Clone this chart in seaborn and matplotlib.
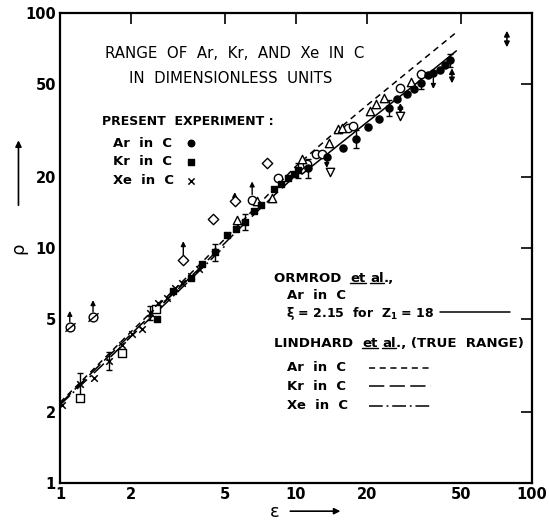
import numpy as np
import pandas as pd
import matplotlib
matplotlib.use("Agg")
import matplotlib.pyplot as plt
import seaborn as sns
from matplotlib.markers import MarkerStyle
from matplotlib.transforms import Affine2D

# ---------------- data ----------------
tick_vals = [1, 2, 5, 10, 20, 50, 100]
tick_labels = ["1", "2", "5", "10", "20", "50", "100"]

# present experiment
ar_eps = [11.2, 13.5, 15.8, 17.9, 20.1, 22.4, 24.7, 26.9, 29.4, 31.5, 34.0, 36.1, 38.2, 40.9, 42.9, 45.1]
ar_rho = [21.8, 24.3, 26.6, 29.2, 32.6, 35.5, 39.6, 43.2, 45.3, 47.6, 50.5, 54.5, 55.6, 57.3, 60.2, 63.2]
ar_err = [2.0, 0, 0, 2.5, 0, 0, 3.0, 0, 0, 0, 3.0, 0, 0, 0, 0, 4.0]

kr_eps = [2.57, 3.0, 3.6, 4.01, 4.55, 5.1, 5.58, 6.09, 6.63, 7.1, 8.1, 8.6, 9.25, 9.8, 10.2]
kr_rho = [5.0, 6.57, 7.45, 8.55, 9.6, 11.4, 12.1, 12.9, 14.3, 15.3, 17.8, 18.7, 19.8, 20.6, 21.4]
kr_err = [0, 0, 0, 0, 0.8, 0, 0, 1.0, 0, 0, 0, 0, 0, 0, 1.5]

xe_eps = [1.02, 1.21, 1.40, 1.61, 1.84, 2.01, 2.22, 2.40, 2.59, 2.83, 3.06, 3.3, 3.6, 3.9]
xe_rho = [2.14, 2.65, 2.81, 3.32, 3.85, 4.32, 4.53, 5.30, 5.85, 6.14, 6.76, 7.09, 7.62, 8.16]
xe_err = [0, 0.3, 0, 0.3, 0, 0, 0, 0.35, 0, 0, 0, 0, 0, 0]

# other experiments (open symbols)
osq_eps = [1.21, 1.83, 2.54]
osq_rho = [2.31, 3.59, 5.51]
odi_eps = [3.33, 4.45, 5.5, 7.55]
odi_rho = [8.9, 13.3, 15.8, 22.9]
sci_eps = [1.10, 1.38]
sci_rho = [4.61, 5.09]
oci_eps = [6.52, 8.4, 11.1, 12.1, 12.9, 16.6, 17.4, 27.7, 34.0]
oci_rho = [16.0, 19.8, 22.8, 25.0, 25.2, 32.4, 33.2, 48.0, 55.0]
otr_eps = [5.63, 6.85, 7.9, 10.6, 13.8, 15.0, 15.6, 20.5, 21.8, 23.5, 30.8]
otr_rho = [13.1, 15.8, 16.3, 23.8, 27.9, 32.2, 32.3, 38.4, 41.0, 43.3, 50.9]
dtr_eps = [13.9, 27.7]
dtr_rho = [21.1, 36.5]

# limits (arrows)
up_eps = [1.10, 1.38, 3.33, 5.5, 6.52]
up_from = [4.85, 5.35, 9.35, 16.4, 16.9]
up_to = [5.4, 6.0, 10.7, 17.3, 19.2]
dn_eps = [13.5, 38.2]
dn_from = [23.4, 54.0]
dn_to = [21.9, 47.5]
da_eps = [27.7, 45.8, 78.3]
da_lo = [37.4, 50.2, 71.5]
da_hi = [41.4, 58.2, 84.0]

# theory curves
orm_eps = [10.6, 20, 30, 47.8]
orm_rho = [20.6, 34.3, 47.2, 69.0]
lar_eps = [1, 2, 3, 4, 6, 10, 15, 20, 30, 48]
lar_rho = [2.2, 4.4, 6.55, 8.7, 13.2, 22.3, 31.8, 40.5, 56.5, 83.0]
lkr_eps = [1, 2, 3, 4, 6, 8, 11]
lkr_rho = [2.17, 4.3, 6.35, 8.4, 12.6, 16.6, 22.3]
lxe_eps = [1, 1.5, 2, 3, 4, 5]
lxe_rho = [2.15, 3.15, 4.2, 6.2, 8.2, 10.2]

# ---------------- figure ----------------
sns.set_style("white")
plt.rcParams['font.family'] = ['DejaVu Sans']
plt.rcParams['text.color'] = 'black'
plt.rcParams['xtick.color'] = 'black'
plt.rcParams['ytick.color'] = 'black'
plt.rcParams['axes.labelcolor'] = 'black'
fig = plt.figure(figsize=(5.49, 5.20), dpi=100)
ax = fig.add_axes([0.1093, 0.0712, 0.8597, 0.9038])
ax.set_xscale('log')
ax.set_yscale('log')

K = 'black'
LW = 1.1
sty_ar = (0, (4, 3))
sty_kr = (0, (10, 3.5))
sty_xe = (0, (9, 2.5, 1.2, 2.5))

def curve(x, y, ls):
    sns.lineplot(x=x, y=y, ax=ax, color=K, lw=LW, linestyle=ls, zorder=1,
                 estimator=None, sort=True)

curve(orm_eps, orm_rho, '-')
curve(lar_eps, lar_rho, sty_ar)
curve(lkr_eps, lkr_rho, sty_kr)
curve(lxe_eps, lxe_rho, sty_xe)

# error bars
def ebars(x, y, e):
    x = np.array(x); y = np.array(y); e = np.array(e)
    m = e > 0
    ax.errorbar(x[m], y[m], yerr=e[m], fmt='none', ecolor=K, elinewidth=1.0,
                capsize=2.5, capthick=1.0, zorder=2)

ebars(ar_eps, ar_rho, ar_err)
ebars(kr_eps, kr_rho, kr_err)
ebars(xe_eps, xe_rho, xe_err)

# arrows
for e, a, b in zip(up_eps + dn_eps, up_from + dn_from, up_to + dn_to):
    ax.annotate('', xy=(e, b), xytext=(e, a),
                arrowprops=dict(arrowstyle='-|>', color=K, lw=1.0,
                                mutation_scale=7, shrinkA=0, shrinkB=0), zorder=2)
for e, a, b in zip(da_eps, da_lo, da_hi):
    ax.annotate('', xy=(e, b), xytext=(e, a),
                arrowprops=dict(arrowstyle='<|-|>', color=K, lw=1.1,
                                mutation_scale=8, shrinkA=0, shrinkB=0), zorder=2)

# markers
def pts(x, y, marker, s, filled, lw=1.0):
    if filled:
        sns.scatterplot(x=x, y=y, ax=ax, marker=marker, s=s, color=K,
                        edgecolor=K, linewidth=lw, zorder=3)
    else:
        sns.scatterplot(x=x, y=y, ax=ax, marker=marker, s=s, color='white',
                        edgecolor=K, linewidth=lw, zorder=3)

pts(osq_eps, osq_rho, 's', 30, False)
pts(odi_eps, odi_rho, 'D', 28, False)
pts(sci_eps, sci_rho, 'o', 40, False)
pts(oci_eps, oci_rho, 'o', 36, False)
pts(otr_eps, otr_rho, '^', 36, False)
pts(dtr_eps, dtr_rho, 'v', 36, False)
slash = MarkerStyle('|', transform=Affine2D().rotate_deg(-50))
sns.scatterplot(x=sci_eps, y=sci_rho, ax=ax, marker=slash, s=90, color=K,
                linewidth=1.0, zorder=4)
pts(ar_eps, ar_rho, 'o', 26, True)
pts(kr_eps, kr_rho, 's', 18, True)
sns.scatterplot(x=xe_eps, y=xe_rho, ax=ax, marker='x', s=22, color=K,
                linewidth=1.1, zorder=3)

# axes formatting
ax.set_xlim(1, 100)
ax.set_ylim(1, 100)
ax.set_xticks(tick_vals)
ax.set_xticklabels(tick_labels)
ax.set_yticks(tick_vals)
ax.set_yticklabels(tick_labels)
ax.minorticks_off()
ax.tick_params(direction='in', length=8, width=1.2, top=True, right=True,
               labelsize=10.5, pad=3, colors=K)
for lab in ax.get_xticklabels() + ax.get_yticklabels():
    lab.set_fontweight('bold')
for sp in ax.spines.values():
    sp.set_linewidth(1.6)
    sp.set_color(K)
ax.set_xlabel('')
ax.set_ylabel('')

# axis labels with arrows
ax.text(-0.088, 0.50, 'ρ', transform=ax.transAxes, rotation=90,
        fontsize=13, ha='center', va='center', color=K)
ax.annotate('', xy=(-0.088, 0.735), xytext=(-0.088, 0.585), xycoords='axes fraction',
            annotation_clip=False,
            arrowprops=dict(arrowstyle='-|>', color=K, lw=1.2, mutation_scale=9))
ax.text(0.455, -0.062, 'ε', transform=ax.transAxes, fontsize=13,
        ha='center', va='center', color=K)
ax.annotate('', xy=(0.60, -0.060), xytext=(0.482, -0.060), xycoords='axes fraction',
            annotation_clip=False,
            arrowprops=dict(arrowstyle='-|>', color=K, lw=1.2, mutation_scale=9))

# title
ax.text(0.371, 0.913, 'RANGE  OF  Ar,  Kr,  AND  Xe  IN  C', transform=ax.transAxes,
        fontsize=10.8, ha='center', va='center', color=K)
ax.text(0.362, 0.860, 'IN  DIMENSIONLESS  UNITS', transform=ax.transAxes,
        fontsize=10.8, ha='center', va='center', color=K)

# present experiment legend
ax.text(0.089, 0.770, 'PRESENT  EXPERIMENT :', transform=ax.transAxes,
        fontsize=9, fontweight='bold', ha='left', va='center', color=K)
leg_y = [0.723, 0.683, 0.643]
for lbl, y in zip(['Ar  in  C', 'Kr  in  C', 'Xe  in  C'], leg_y):
    ax.text(0.112, y, lbl, transform=ax.transAxes, fontsize=9.5,
            fontweight='bold', ha='left', va='center', color=K)
ax.scatter([0.278], [leg_y[0]], transform=ax.transAxes, marker='o', s=22, color=K, zorder=5)
ax.scatter([0.278], [leg_y[1]], transform=ax.transAxes, marker='s', s=16, color=K, zorder=5)
ax.scatter([0.278], [leg_y[2]], transform=ax.transAxes, marker='x', s=20, color=K,
           linewidth=1.1, zorder=5)

# sequential text with underlines
fig.canvas.draw()
renderer = fig.canvas.get_renderer()

def seq_text(xf, yf, pieces, fs, weight):
    x0, y0 = ax.transAxes.transform((xf, yf))
    inv = ax.transAxes.inverted()
    cx = x0
    for s, ul in pieces:
        t = ax.text(*inv.transform((cx, y0)), s, transform=ax.transAxes,
                    fontsize=fs, fontweight=weight, ha='left', va='center', color=K)
        bb = t.get_window_extent(renderer)
        if ul:
            (ux0, uy), (ux1, _) = inv.transform([(bb.x0, bb.y0 + 2), (bb.x1, bb.y0 + 2)])
            ax.plot([ux0, ux1], [uy, uy], transform=ax.transAxes, color=K, lw=1.0)
        cx = bb.x1

seq_text(0.453, 0.436, [('ORMROD  ', False), ('et', True), (' ', False), ('al', True), ('.,', False)],
         9.5, 'bold')
ax.text(0.481, 0.398, 'Ar  in  C', transform=ax.transAxes, fontsize=9.5,
        fontweight='bold', ha='left', va='center', color=K)
ax.text(0.479, 0.360, r'ξ = 2.15  for  Z$_\mathregular{1}$ = 18', transform=ax.transAxes,
        fontsize=9, fontweight='bold', ha='left', va='center', color=K)
ax.plot([0.805, 0.953], [0.364, 0.364], transform=ax.transAxes, color=K, lw=LW)

seq_text(0.453, 0.296, [('LINDHARD  ', False), ('et', True), (' ', False), ('al', True),
                        ('., (TRUE  RANGE)', False)], 9.6, 'bold')
for lbl, y, ls in zip(['Ar  in  C', 'Kr  in  C', 'Xe  in  C'], [0.245, 0.206, 0.164],
                      [sty_ar, sty_kr, sty_xe]):
    ax.text(0.481, y, lbl, transform=ax.transAxes, fontsize=9.5,
            fontweight='bold', ha='left', va='center', color=K)
    ax.plot([0.655, 0.785], [y, y], transform=ax.transAxes, color=K, lw=LW, linestyle=ls)

fig.savefig('out.png', dpi=100)
